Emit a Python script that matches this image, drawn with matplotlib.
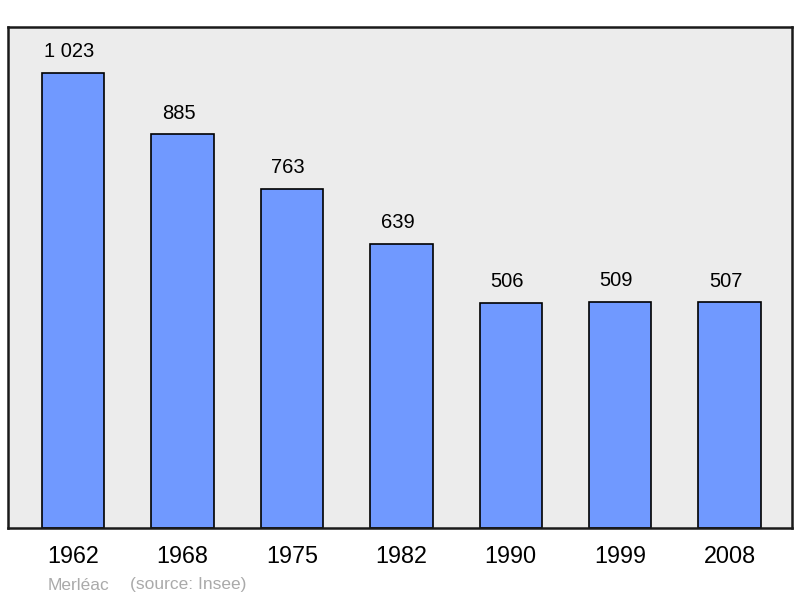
import matplotlib
matplotlib.use("Agg")
import matplotlib.pyplot as plt

plt.rcParams['font.family'] = ['Liberation Sans', 'DejaVu Sans']

years = ["1962", "1968", "1975", "1982", "1990", "1999", "2008"]
population = [1023, 885, 763, 639, 506, 509, 507]
value_labels = ["1 023", "885", "763", "639", "506", "509", "507"]

fig = plt.figure(figsize=(8, 5.98), dpi=100)
ax = fig.add_axes([8 / 800, 1 - 528 / 598, 784 / 800, 501 / 598])
ax.set_facecolor('#ececec')

x = list(range(len(years)))
ax.bar(x, population, width=0.57, color='#7099ff', edgecolor='black', linewidth=1.2, zorder=2)
for xi, v, lab in zip(x, population, value_labels):
    ax.text(xi - 0.035, v + 47, lab, ha='center', va='center', fontsize=14.5)

ax.set_xlim(-0.595, 6.57)
ax.set_ylim(0, 1126)
ax.set_yticks([])
ax.set_xticks(x)
ax.set_xticklabels(years, fontsize=16.8)
ax.tick_params(axis='x', length=0, pad=12)
for s in ax.spines.values():
    s.set_linewidth(1.8)
    s.set_color('#1a1a1a')

fig.text(48 / 800, 1 - 585 / 598, "Merléac", fontsize=12.5,
         color='#aaaaaa', va='center', ha='left')
fig.text(130 / 800, 1 - 585 / 598, "(source: Insee)", fontsize=12.5,
         color='#aaaaaa', va='center', ha='left')

fig.savefig("out.png", dpi=100, facecolor='white')
